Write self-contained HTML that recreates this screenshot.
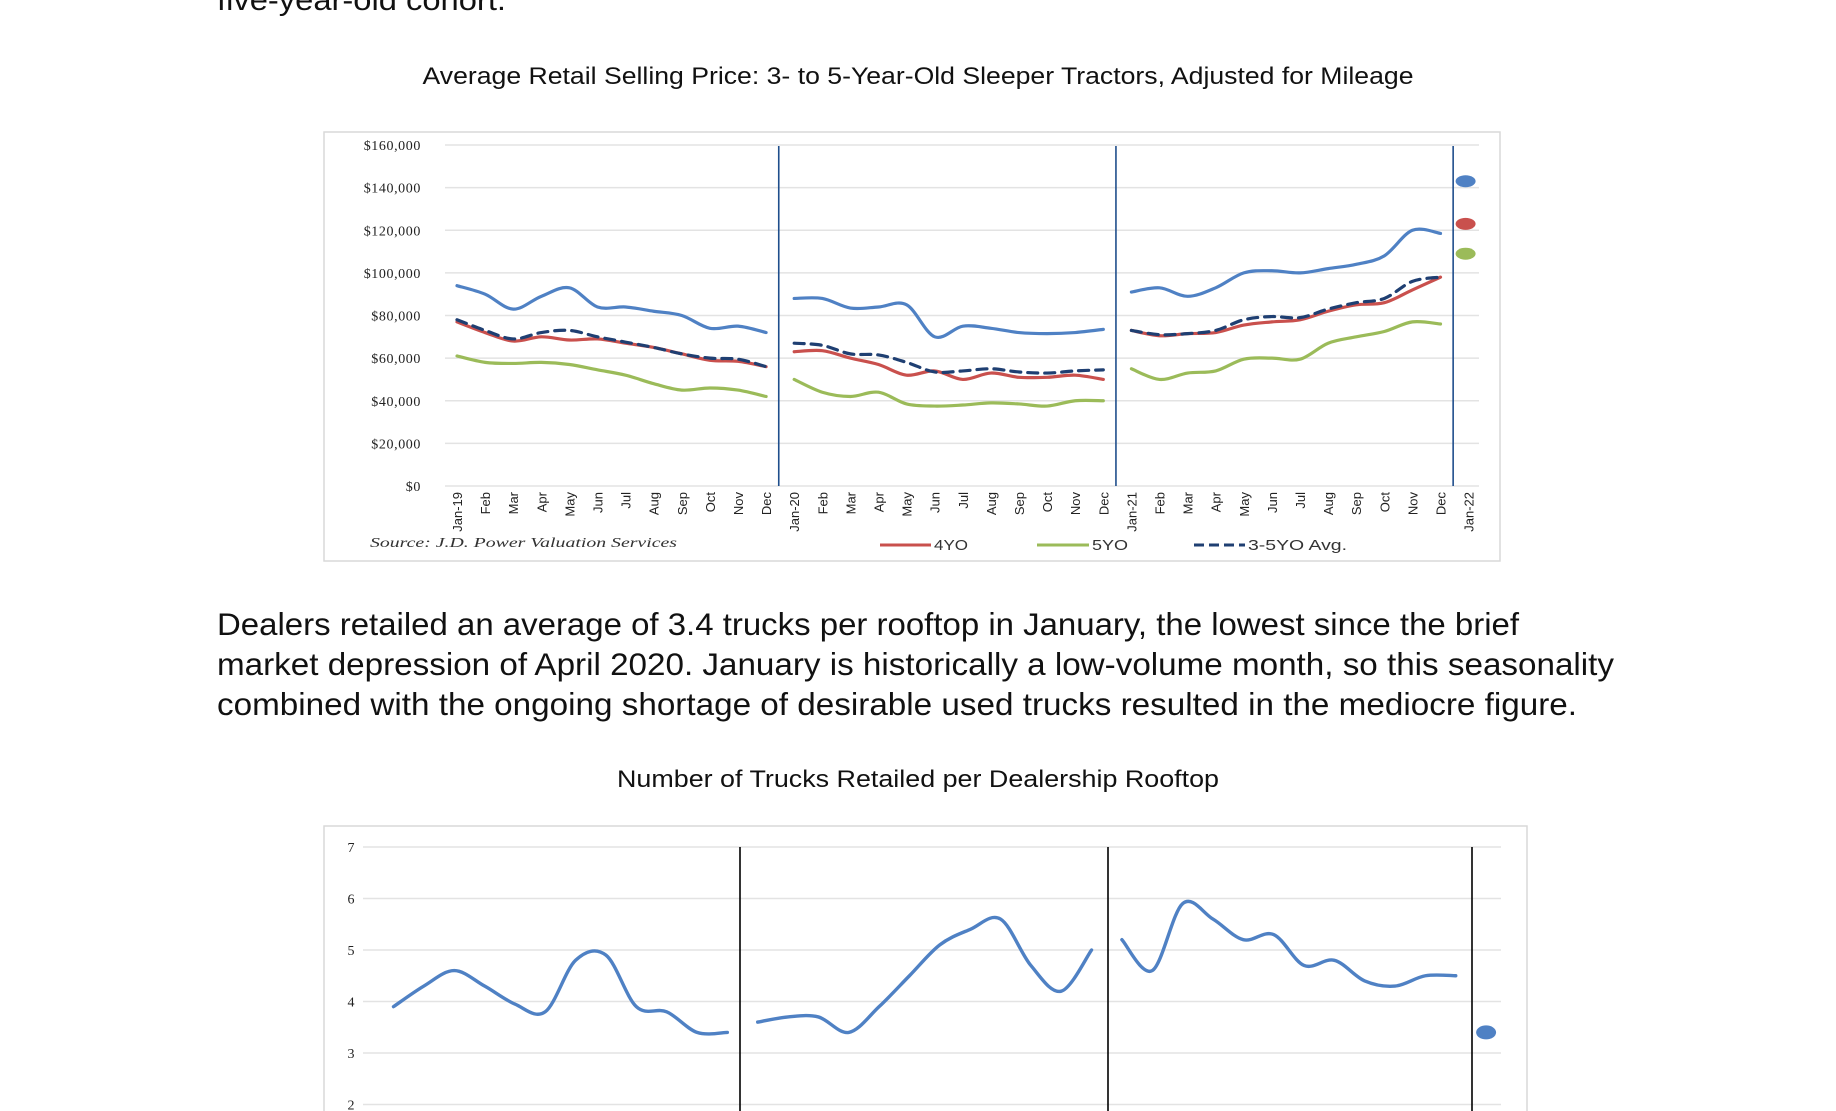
<!DOCTYPE html>
<html><head><meta charset="utf-8"><style>
body{margin:0;background:#fff;width:1836px;height:1111px;overflow:hidden;font-family:"Liberation Sans",sans-serif;}
svg{position:absolute;left:0;top:0}
</style></head><body>
<svg id="s" width="1836" height="1111" xmlns="http://www.w3.org/2000/svg">
<text x="217" y="10" font-size="30" fill="#111" textLength="289" lengthAdjust="spacingAndGlyphs">five-year-old cohort.</text>
<text x="918" y="84" font-size="24" text-anchor="middle" fill="#111" textLength="991" lengthAdjust="spacingAndGlyphs">Average Retail Selling Price: 3- to 5-Year-Old Sleeper Tractors, Adjusted for Mileage</text>
<rect x="324" y="132" width="1176" height="429" fill="#fff" stroke="#d9d9d9" stroke-width="1.5"/>
<g id="c1"></g>
<g font-size="31.5" fill="#111">
<text x="217" y="635" textLength="1302" lengthAdjust="spacingAndGlyphs">Dealers retailed an average of 3.4 trucks per rooftop in January, the lowest since the brief</text>
<text x="217" y="675" textLength="1397" lengthAdjust="spacingAndGlyphs">market depression of April 2020. January is historically a low-volume month, so this seasonality</text>
<text x="217" y="715" textLength="1360" lengthAdjust="spacingAndGlyphs">combined with the ongoing shortage of desirable used trucks resulted in the mediocre figure.</text>
</g>
<text x="918" y="787" font-size="24" text-anchor="middle" fill="#111" textLength="602" lengthAdjust="spacingAndGlyphs">Number of Trucks Retailed per Dealership Rooftop</text>
<rect x="324" y="826" width="1203" height="300" fill="#fff" stroke="#d9d9d9" stroke-width="1.5"/>
<g id="c2"></g>
</svg>
<script>
const months=["Jan-19","Feb","Mar","Apr","May","Jun","Jul","Aug","Sep","Oct","Nov","Dec","Jan-20","Feb","Mar","Apr","May","Jun","Jul","Aug","Sep","Oct","Nov","Dec","Jan-21","Feb","Mar","Apr","May","Jun","Jul","Aug","Sep","Oct","Nov","Dec","Jan-22"];
const priceTicks=[0,20000,40000,60000,80000,100000,120000,140000,160000];
const price3YO=[94,90,83,89,93,84,84,82,80,74,75,72, 88,88,83.5,84,85,70,75,74,72,71.5,72,73.5, 91,93,89,93,100,101,100,102,104,108,120,118.5];
const price4YO=[77,72,68,70,68.5,69,67,65,62,59,58.5,56, 63,63.5,60,57,52,54,50,53,51,51,52,50, 73,70.5,71.5,72,75.5,77,78,82,85,86,92,98];
const priceAvg=[78,73,69,72,73,70,67.5,65,62,60,59.5,56, 67,66,62,61.5,58,53.5,54,55,53.5,53,54,54.5, 73,71,71.5,73,78,79.5,79,83,86,88,96,98];
const price5YO=[61,58,57.5,58,57,54.5,52,48,45,46,45,42, 50,44,42,44,38.5,37.5,38,39,38.5,37.5,40,40, 55,50,53,54,59.5,60,59.5,67,70,72.5,77,76];
const jan22=[143,123,109];
const rooftop=[3.9,4.3,4.6,4.3,3.95,3.8,4.8,4.9,3.9,3.8,3.4,3.4, 3.6,3.7,3.7,3.4,3.9,4.5,5.1,5.4,5.6,4.7,4.2,5.0, 5.2,4.6,5.9,5.6,5.2,5.3,4.7,4.8,4.4,4.3,4.5,4.5];
const rooftopJan22=3.4;
const rooftopTicks=[2,3,4,5,6,7];

const NS="http://www.w3.org/2000/svg";
function mk(parent,tag,attrs){const e=document.createElementNS(NS,tag);for(const k in attrs)e.setAttribute(k,attrs[k]);parent.appendChild(e);return e;}
function smooth(pts){let d="M"+pts[0][0]+","+pts[0][1];for(let i=0;i<pts.length-1;i++){const p0=pts[i-1]||pts[i],p1=pts[i],p2=pts[i+1],p3=pts[i+2]||p2;const c1=[p1[0]+(p2[0]-p0[0])/6,p1[1]+(p2[1]-p0[1])/6],c2=[p2[0]-(p3[0]-p1[0])/6,p2[1]-(p3[1]-p1[1])/6];d+=" C"+c1+" "+c2+" "+p2;}return d;}

// chart 1
const c1=document.getElementById('c1');
const x1=i=>457+i*28.1;
const y1=v=>486-v*(341/160);
priceTicks.forEach(t=>{
  const g=mk(c1,'line',{x1:445,x2:1479,y1:y1(t/1000),y2:y1(t/1000),stroke:'#e3e3e3','stroke-width':1.5});
  
  
  const tx=mk(c1,'text',{x:421,y:y1(t/1000)+5,'font-size':14,'text-anchor':'end',fill:'#222','font-family':'Liberation Serif, serif','letter-spacing':'0.6'});
  tx.textContent='$'+t.toLocaleString('en-US');
  
  
});
[11.45,23.45,35.45].forEach(s=>{
  const l=mk(c1,'line',{x1:x1(s),x2:x1(s),y1:146,y2:486,stroke:'#1f4e8c','stroke-width':1.6});
  
  
});
months.forEach((m,i)=>{
  const t=mk(c1,'text',{transform:`translate(${x1(i)+5},492) rotate(-90)`,'font-size':13,'text-anchor':'end',fill:'#222'});
  t.textContent=m;
  
  
});
function series1(arr,color,name,dash){
  for(let y=0;y<3;y++){
    const pts=arr.slice(y*12,y*12+12).map((v,j)=>[x1(y*12+j),y1(v)]);
    const p=mk(c1,'path',{d:smooth(pts),fill:'none',stroke:color,'stroke-width':3.2,'stroke-linecap':'round'});
    if(dash)p.setAttribute('stroke-dasharray','10,7');
    
    
  }
}
series1(price3YO,'#4f81c4','line-3yo');
series1(price5YO,'#9bbb59','line-5yo');
series1(price4YO,'#c9504d','line-4yo');
series1(priceAvg,'#1f3f72','line-avg',true);
['#4f81c4','#c9504d','#9bbb59'].forEach((c,k)=>{
  const e=mk(c1,'ellipse',{cx:x1(36)-3,cy:y1(jan22[k]),rx:10,ry:6,fill:c});
  
  
});
const src=mk(c1,'text',{x:370,y:547,'font-size':14,'font-style':'italic',fill:'#333','font-family':'Liberation Serif, serif',textLength:307,lengthAdjust:'spacingAndGlyphs'});
src.textContent='Source: J.D. Power Valuation Services';


[[880,931,'#c9504d','4YO',0,34],[1037,1089,'#9bbb59','5YO',0,36],[1194,1245,'#1f3f72','3-5YO Avg.',1,99]].forEach(L=>{
  const g=mk(c1,'g',{});
  
  
  const l=mk(g,'line',{x1:L[0],x2:L[1],y1:545,y2:545,stroke:L[2],'stroke-width':3});
  if(L[4])l.setAttribute('stroke-dasharray','10,5');
  const t=mk(g,'text',{x:L[1]+3,y:550,'font-size':14.5,fill:'#333',textLength:L[5],lengthAdjust:'spacingAndGlyphs'});
  t.textContent=L[3];
});

// chart 2
const c2=document.getElementById('c2');
const x2=i=>393.5+i*30.35;
const y2=v=>847+(7-v)*51.5;
rooftopTicks.forEach(t=>{
  const l=mk(c2,'line',{x1:363,x2:1501,y1:y2(t),y2:y2(t),stroke:'#e3e3e3','stroke-width':1.5});
  
  
  const tx=mk(c2,'text',{x:351,y:y2(t)+5,'font-size':14,'text-anchor':'middle',fill:'#222','font-family':'Liberation Serif, serif'});
  tx.textContent=t;
  
  
});
[740,1108,1472].forEach(x=>{
  const l=mk(c2,'line',{x1:x,x2:x,y1:847,y2:1111,stroke:'#000','stroke-width':1.6});
  
  
});
for(let y=0;y<3;y++){
  const pts=rooftop.slice(y*12,y*12+12).map((v,j)=>[x2(y*12+j),y2(v)]);
  const p=mk(c2,'path',{d:smooth(pts),fill:'none',stroke:'#4f81c4','stroke-width':3.4,'stroke-linecap':'round'});
  
  
}
const d2=mk(c2,'ellipse',{cx:x2(36),cy:y2(rooftopJan22),rx:10,ry:7,fill:'#4f81c4'});


</script>
</body></html>
